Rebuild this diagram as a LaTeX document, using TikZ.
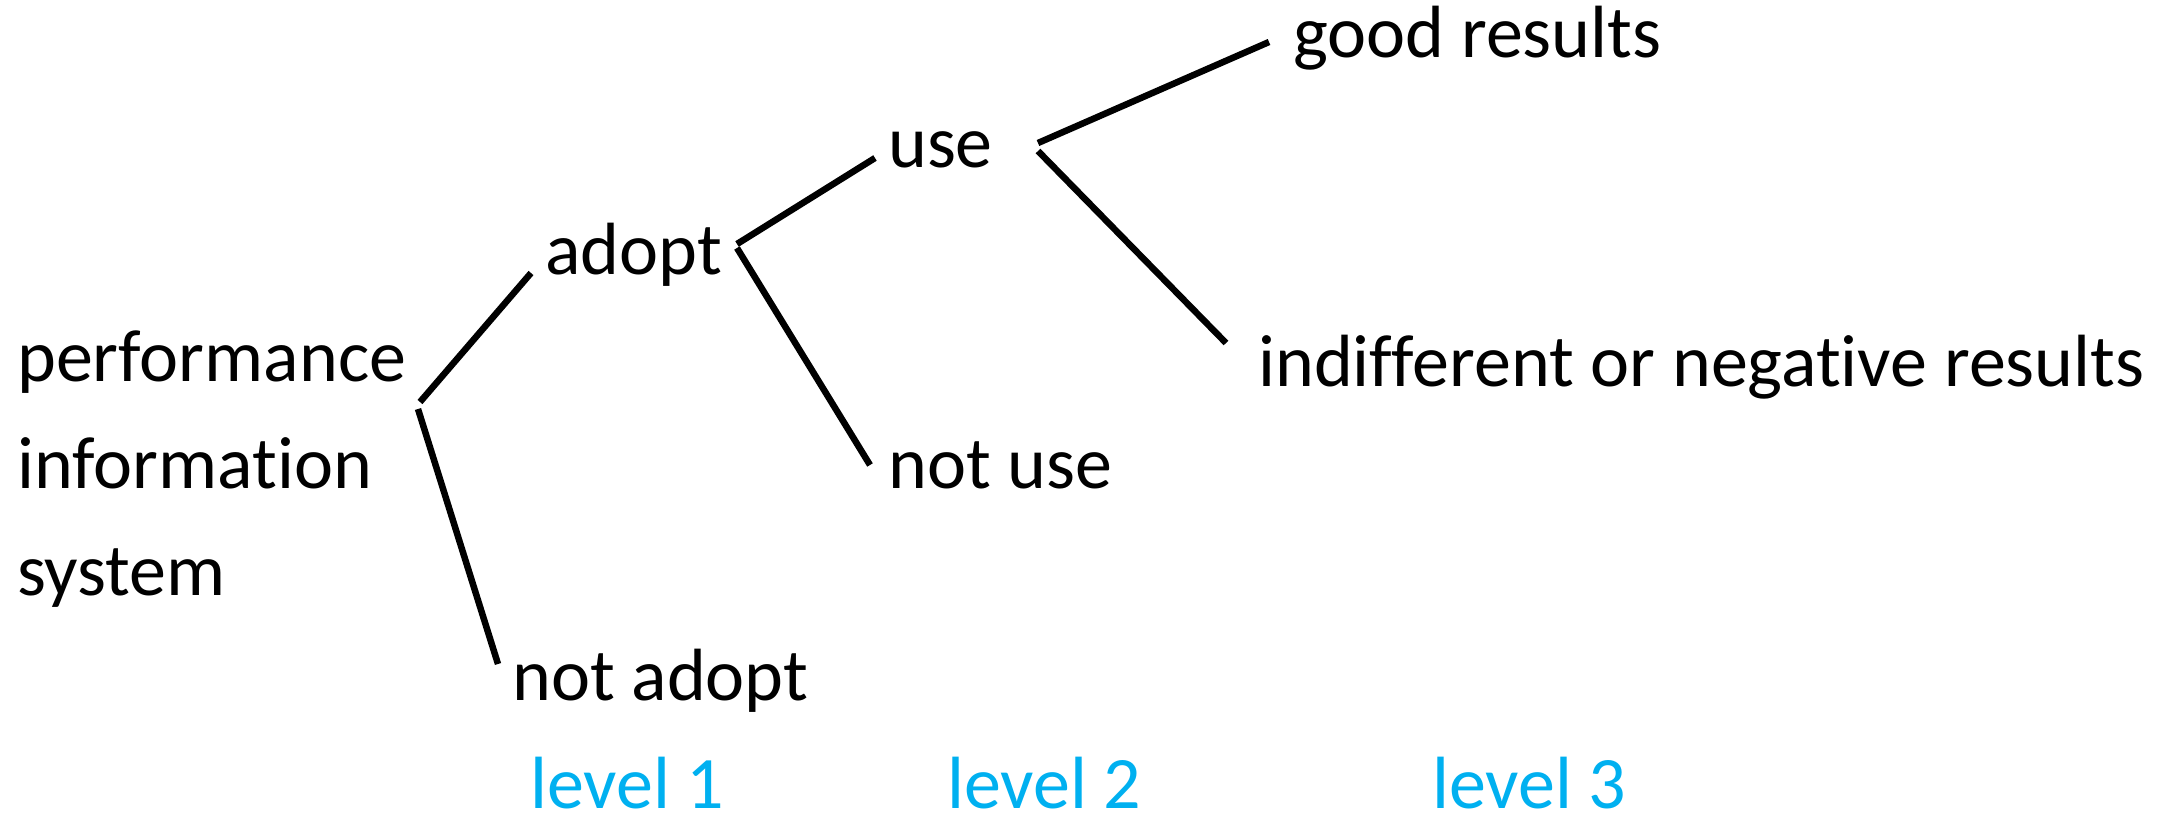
\documentclass[tikz,border=0pt]{standalone}
\usepackage{fontspec}
\setmainfont{Carlito}[Ligatures=NoCommon]
\definecolor{lvlblue}{HTML}{00B0F0}
\begin{document}
\begin{tikzpicture}[x=1pt,y=-1pt,
  lbl/.style={anchor=base west,inner sep=0pt,font=\fontsize{74}{89}\selectfont},
  lvl/.style={lbl,text=lvlblue},
  branch/.style={line width=6.5pt}]
\useasboundingbox (0,0) rectangle (2175,816);
% texts
\node[lbl] (pis1) at (17,381) {performance};
\node[lbl] (pis2) at (17,488) {information};
\node[lbl] (pis3) at (17,595) {system};
\node[lbl] (adopt) at (545,274) {adopt};
\node[lbl] (notadopt) at (512,700) {not adopt};
\node[lbl] (use) at (888,167) {use};
\node[lbl] (notuse) at (888,488) {not use};
\node[lbl] (good) at (1293,58) {good results};
\node[lbl] (indiff) at (1258,386) {indifferent or negative results};
\node[lvl] (l1) at (530,808) {level 1};
\node[lvl] (l2) at (947,808) {level 2};
\node[lvl] (l3) at (1432,808) {level 3};
% connector end points
\coordinate (pisA) at (420,402);
\coordinate (pisB) at (418,409);
\coordinate (adoptIn) at (531,273);
\coordinate (notadoptIn) at (498,664);
\coordinate (adoptA) at (737,244);
\coordinate (adoptB) at (737,248);
\coordinate (useIn) at (875,158);
\coordinate (notuseIn) at (870,465);
\coordinate (useA) at (1038,143);
\coordinate (useB) at (1038,151);
\coordinate (goodIn) at (1269,42);
\coordinate (indiffIn) at (1226,343);
% connectors
\draw[branch] (pisA) -- (adoptIn);
\draw[branch] (pisB) -- (notadoptIn);
\draw[branch] (adoptA) -- (useIn);
\draw[branch] (adoptB) -- (notuseIn);
\draw[branch] (useA) -- (goodIn);
\draw[branch] (useB) -- (indiffIn);
\end{tikzpicture}
\end{document}
